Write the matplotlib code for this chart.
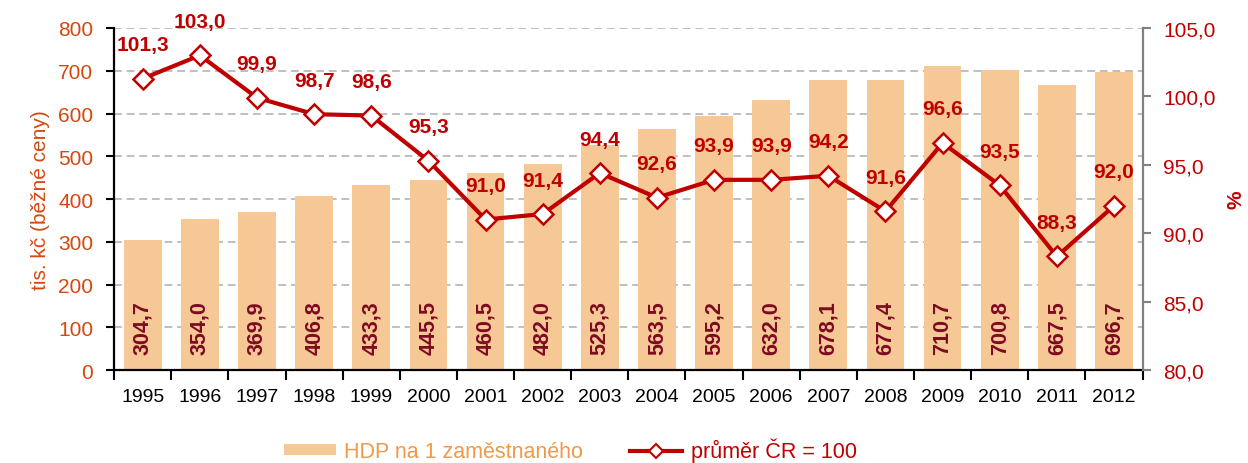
import numpy as np
import matplotlib.pyplot as plt
from matplotlib.patches import Patch
from matplotlib.lines import Line2D

plt.rcParams['font.family'] = ['Liberation Sans', 'DejaVu Sans']

years = ['1995', '1996', '1997', '1998', '1999', '2000', '2001', '2002', '2003',
         '2004', '2005', '2006', '2007', '2008', '2009', '2010', '2011', '2012']
hdp = [304.7, 354.0, 369.9, 406.8, 433.3, 445.5, 460.5, 482.0, 525.3,
       563.5, 595.2, 632.0, 678.1, 677.4, 710.7, 700.8, 667.5, 696.7]
prumer = [101.3, 103.0, 99.9, 98.7, 98.6, 95.3, 91.0, 91.4, 94.4,
          92.6, 93.9, 93.9, 94.2, 91.6, 96.6, 93.5, 88.3, 92.0]

bar_color = '#F6C896'
line_color = '#C00000'
left_color = '#D6470F'
label_dark = '#7E0A22'
legend_bar_text = '#EE9A4A'


def fmt(v):
    return f'{v:.1f}'.replace('.', ',')


def main():
    fig = plt.figure(figsize=(12.48, 4.64), dpi=100)
    ax = fig.add_axes([0.0915, 0.2004, 0.8240, 0.7371])
    x = np.arange(len(years))

    # bars on the left axis
    ax.bar(x, hdp, width=0.66, color=bar_color, zorder=2)
    for xi, v in zip(x, hdp):
        ax.annotate(fmt(v), (xi, 0), xytext=(0, 16), textcoords='offset pixels',
                    rotation=90, ha='center', va='bottom', fontsize=15.5,
                    fontweight='bold', color=label_dark, zorder=3)

    ax.set_xlim(-0.5, len(years) - 0.5)
    ax.set_ylim(0, 800)
    ax.set_yticks(np.arange(0, 801, 100))
    ax.set_axisbelow(True)
    ax.grid(axis='y', color='#BFBFBF', linestyle=(0, (4, 2.5)), linewidth=1.4)

    ax.set_xticks(x)
    ax.set_xticklabels(years, fontsize=14)
    ax.set_xticks(np.arange(-0.5, len(years)), minor=True)
    ax.tick_params(axis='x', which='major', length=0, pad=13)
    ax.tick_params(axis='x', which='minor', length=7, width=1.5, direction='out')
    ax.tick_params(axis='y', length=6, width=1.5, colors='black',
                   labelcolor=left_color, labelsize=15, pad=9)
    ax.set_ylabel('tis. kč (běžné ceny)', color=left_color, fontsize=15, labelpad=6)

    for side in ('top', 'right'):
        ax.spines[side].set_visible(False)
    ax.spines['left'].set_linewidth(1.6)
    ax.spines['bottom'].set_linewidth(1.6)

    # index line on the right axis
    ax2 = ax.twinx()
    ax2.plot(x, prumer, color=line_color, linewidth=3, marker='D', markersize=10.5,
             markerfacecolor='white', markeredgecolor=line_color, markeredgewidth=1.8,
             zorder=4)
    for xi, v in zip(x, prumer):
        ax2.annotate(fmt(v), (xi, v), xytext=(0, 34), textcoords='offset pixels',
                     ha='center', va='center', fontsize=15, fontweight='bold',
                     color=line_color)
    ax2.set_ylim(80, 105)
    ax2.set_yticks(np.arange(80, 105.1, 5))
    ax2.set_yticklabels([fmt(v) for v in np.arange(80, 105.1, 5)])
    ax2.tick_params(axis='y', length=6, width=1.5, colors='#808080',
                    labelcolor=line_color, labelsize=15, pad=9)
    ax2.set_ylabel('%', color=line_color, fontsize=15, fontweight='bold',
                   labelpad=8)
    for side in ('top', 'left', 'bottom'):
        ax2.spines[side].set_visible(False)
    ax2.spines['right'].set_color('#808080')
    ax2.spines['right'].set_linewidth(1.6)

    handles = [Patch(facecolor=bar_color, edgecolor='none'),
               Line2D([], [], color=line_color, linewidth=3, marker='D', markersize=7.5,
                      markerfacecolor='white', markeredgecolor=line_color,
                      markeredgewidth=1.5)]
    leg = fig.legend(handles, ['HDP na 1 zaměstnaného', 'průměr ČR = 100'],
                     loc='center', bbox_to_anchor=(0.457, 0.028), ncol=2,
                     frameon=False, fontsize=15.5, handlelength=2.4, handleheight=0.45,
                     columnspacing=2.2, handletextpad=0.4)
    for t, c in zip(leg.get_texts(), [legend_bar_text, line_color]):
        t.set_color(c)

    plt.savefig('out.png', dpi=100)


if __name__ == '__main__':
    main()
